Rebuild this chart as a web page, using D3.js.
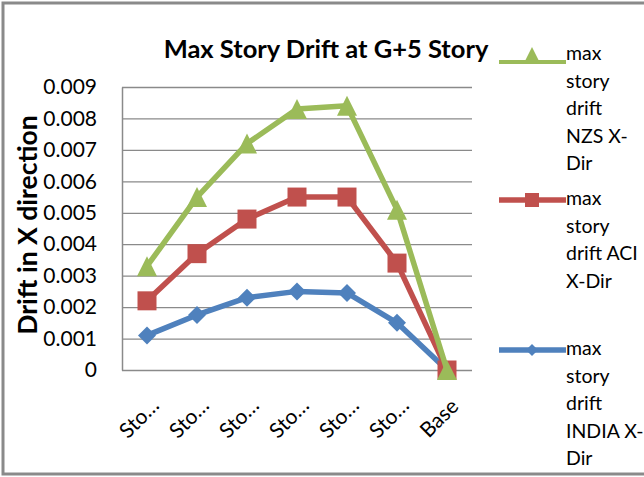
<!DOCTYPE html>
<html>
<head>
<meta charset="utf-8">
<script src="https://cdn.jsdelivr.net/npm/d3@7"></script>
<style>
body { margin: 0; background: #fff; }
text { font-family: Lato, "Open Sans", sans-serif; fill: #000; }
</style>
</head>
<body>
<div id="chart"></div>
<script>
// values
var categories = ["Sto…", "Sto…", "Sto…", "Sto…", "Sto…", "Sto…", "Base"];
var nzsDrift = [0.0033, 0.0055, 0.0072, 0.0083, 0.0084, 0.0051, 0];
var aciDrift = [0.0022, 0.0037, 0.0048, 0.0055, 0.0055, 0.0034, 0];
var indiaDrift = [0.0011, 0.00175, 0.0023, 0.0025, 0.00245, 0.0015, 0];
var yTicks = [0, 0.001, 0.002, 0.003, 0.004, 0.005, 0.006, 0.007, 0.008, 0.009];
var legendNames = [
  ["max", "story", "drift", "NZS X-", "Dir"],
  ["max", "story", "drift ACI", "X-Dir"],
  ["max", "story", "drift", "INDIA X-", "Dir"]
];

var width = 644, height = 477;
var plot = { left: 122, right: 472, top: 87, bottom: 370 };
var grey = "#8a8a8a";

var series = [
  { key: "india", values: indiaDrift, color: "#4f81bd", marker: "diamond" },
  { key: "aci", values: aciDrift, color: "#c0504d", marker: "square" },
  { key: "nzs", values: nzsDrift, color: "#9bbb59", marker: "triangle" }
];

var svg = d3.select("#chart").append("svg")
  .attr("width", width)
  .attr("height", height);

svg.append("rect").attr("width", width).attr("height", height).attr("fill", "#fff");

// outer chart frame
svg.append("rect")
  .attr("x", 3).attr("y", 3)
  .attr("width", 700).attr("height", 471)
  .attr("fill", "none")
  .attr("stroke", grey)
  .attr("stroke-width", 3);

var x = d3.scaleBand()
  .domain(d3.range(categories.length))
  .range([plot.left, plot.right]);

var y = d3.scaleLinear()
  .domain([0, 0.009])
  .range([plot.bottom, plot.top]);

var yAxis = d3.axisLeft(y)
  .tickValues(yTicks)
  .tickSize(-(plot.right - plot.left))
  .tickSizeOuter(0)
  .tickPadding(25)
  .tickFormat(function (d) { return d === 0 ? "0" : d3.format(".3f")(d); });

var gy = svg.append("g")
  .attr("transform", "translate(" + plot.left + ",0)")
  .call(yAxis);
gy.select(".domain").attr("stroke", grey).attr("stroke-width", 1.5);
gy.selectAll(".tick line").attr("stroke", grey).attr("stroke-width", 1.3);
gy.selectAll(".tick text")
  .style("font-family", "Lato, sans-serif")
  .style("font-size", "21px")
  .attr("fill", "#000");

// category labels, rotated
svg.append("g").selectAll("text")
  .data(categories)
  .enter().append("text")
  .attr("transform", function (d, i) {
    var cx = x(i) + x.bandwidth() / 2;
    return "translate(" + (cx - 8) + ",418) rotate(-45)";
  })
  .attr("text-anchor", "middle")
  .attr("dy", "0.35em")
  .style("font-size", "21px")
  .text(function (d) { return d; });

// titles
svg.append("text")
  .attr("x", 326).attr("y", 58)
  .attr("text-anchor", "middle")
  .style("font-size", "25.5px")
  .style("font-weight", "bold")
  .text("Max Story Drift at G+5 Story");

svg.append("text")
  .attr("transform", "translate(37,225) rotate(-90)")
  .attr("text-anchor", "middle")
  .style("font-size", "26.5px")
  .style("font-weight", "bold")
  .text("Drift in X direction");

function markerPath(type, s) {
  var p = d3.path();
  var h = s / 2;
  if (type === "triangle") {
    p.moveTo(0, -h); p.lineTo(h, h); p.lineTo(-h, h); p.closePath();
  } else if (type === "square") {
    p.rect(-h, -h, s, s);
  } else {
    p.moveTo(0, -h); p.lineTo(h, 0); p.lineTo(0, h); p.lineTo(-h, 0); p.closePath();
  }
  return p.toString();
}

var line = d3.line()
  .x(function (d, i) { return x(i) + x.bandwidth() / 2; })
  .y(function (d) { return y(d); });

var markerSize = { triangle: 20, square: 19, diamond: 18 };

series.forEach(function (s) {
  var g = svg.append("g").attr("class", "series " + s.key);
  g.append("path")
    .datum(s.values)
    .attr("d", line)
    .attr("fill", "none")
    .attr("stroke", s.color)
    .attr("stroke-width", 5.5)
    .attr("stroke-linejoin", "round");
  g.selectAll("path.mark")
    .data(s.values)
    .enter().append("path")
    .attr("class", "mark")
    .attr("transform", function (d, i) {
      return "translate(" + (x(i) + x.bandwidth() / 2) + "," + y(d) + ")";
    })
    .attr("d", markerPath(s.marker, markerSize[s.marker]))
    .attr("fill", s.color);
});

// legend: NZS, ACI, INDIA from top
var legendItems = [
  { s: series[2], names: legendNames[0], lineY: 62, textY: 60 },
  { s: series[1], names: legendNames[1], lineY: 200, textY: 205 },
  { s: series[0], names: legendNames[2], lineY: 350, textY: 355 }
];
var lineHeight = 27.5;

legendItems.forEach(function (it) {
  var g = svg.append("g").attr("class", "legend");
  g.append("line")
    .attr("x1", 499).attr("x2", 566)
    .attr("y1", it.lineY).attr("y2", it.lineY)
    .attr("stroke", it.s.color)
    .attr("stroke-width", it.s.key === "nzs" ? 4 : 5.5);
  g.append("path")
    .attr("transform", "translate(532," + (it.s.marker === "triangle" ? it.lineY - 8 : it.lineY) + ")")
    .attr("d", markerPath(it.s.marker, it.s.marker === "diamond" ? 12 : 14))
    .attr("fill", it.s.color);
  g.selectAll("text")
    .data(it.names)
    .enter().append("text")
    .attr("x", 566)
    .attr("y", function (d, i) { return it.textY + i * lineHeight; })
    .style("font-size", "19.5px")
    .text(function (d) { return d; });
});
</script>
</body>
</html>
